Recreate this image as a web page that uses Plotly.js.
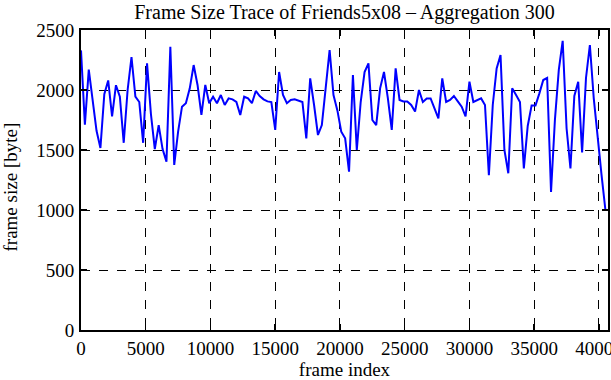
<!DOCTYPE html>
<html>
<head>
<meta charset="utf-8">
<script src="https://cdn.plot.ly/plotly-3.0.1.min.js"></script>
<style>html,body{margin:0;padding:0;background:#fff;}#chart{width:611px;height:380px;}</style>
</head>
<body>
<div id="chart"></div>
<script>
// Aggregated frame sizes (bytes), one value per 300 frames
const aggregation = 300;
const frameSizes = [
  2330, 1710, 2170, 1900, 1660, 1517, 1965, 2080, 1780, 2040,
  1945, 1560, 2000, 2275, 1945, 1900, 1560, 2222, 1800, 1508,
  1708, 1508, 1403, 2361, 1375, 1653, 1861, 1890, 2014, 2208,
  2042, 1792, 2042, 1890, 1944, 1890, 1958, 1875, 1930, 1922,
  1900, 1792, 1944, 1930, 1890, 1992, 1950, 1922, 1905, 1900,
  1667, 2150, 1958, 1890, 1917, 1922, 1910, 1900, 1597, 2097,
  1875, 1625, 1708, 2042, 2333, 1958, 1830, 1653, 1597, 1319,
  2125, 1500, 1900, 2150, 2222, 1750, 1708, 2014, 2150, 1930,
  1667, 2180, 1917, 1905, 1905, 1875, 1820, 2000, 1900, 1930,
  1930, 1847, 1764, 2097, 1900, 1917, 1950, 1905, 1861, 1780,
  2070, 1900, 1917, 1930, 1875, 1290, 1875, 2180, 2292, 1500,
  1306, 2014, 1958, 1900, 1347, 1700, 1870, 1870, 1972, 2083,
  2100, 1150, 1750, 2167, 2410, 1681, 1347, 1950, 2069, 1480,
  2100, 2375, 1930, 1597, 1292, 1000
];
const frameIndex = frameSizes.map((_, i) => i * aggregation);
const xTicks = [0, 5000, 10000, 15000, 20000, 25000, 30000, 35000, 40000];
const yTicks = [0, 500, 1000, 1500, 2000, 2500];
const chartTitle = 'Frame Size Trace of Friends5x08 \u2013 Aggregation 300';
const xTitle = 'frame index';
const yTitle = 'frame size [byte]';

const family = '"Liberation Serif", "DejaVu Serif", serif';
const font = {family: family, size: 19, color: '#000'};

const axisCommon = {
  showline: true, linecolor: '#000', linewidth: 2, mirror: 'ticks',
  ticks: 'inside', ticklen: 6, tickwidth: 1.5, tickcolor: '#000',
  showgrid: true, gridcolor: '#000', gridwidth: 1, griddash: 'dash',
  zeroline: false, tickfont: font, automargin: false, ticklabeloverflow: 'allow'
};

const trace = {
  x: frameIndex, y: frameSizes, type: 'scatter', mode: 'lines',
  line: {color: '#0000ff', width: 2}, hoverinfo: 'skip'
};

const layout = {
  width: 611, height: 380,
  margin: {l: 81, r: 3, t: 30, b: 50},
  paper_bgcolor: '#fff', plot_bgcolor: '#fff',
  showlegend: false,
  font: font,
  title: {text: chartTitle, font: {family: family, size: 20, color: '#000'},
          x: 0.5, xanchor: 'center', y: 1 - 12/380, yanchor: 'middle', xref: 'paper', yref: 'container'},
  xaxis: Object.assign({}, axisCommon, {
    range: [0, 40700], tickvals: xTicks, ticktext: xTicks.map(String),
    title: {text: xTitle, font: font, standoff: 7}
  }),
  yaxis: Object.assign({}, axisCommon, {
    range: [0, 2500], tickvals: yTicks, ticktext: yTicks.map(String),
    ticklabelstandoff: 1
  }),
  annotations: [{
    text: yTitle, font: font, textangle: -90, showarrow: false,
    xref: 'paper', yref: 'paper', x: (10 - 81) / 527, y: 0.475,
    xanchor: 'center', yanchor: 'middle'
  }]
};

Plotly.newPlot('chart', [trace], layout, {staticPlot: true, displayModeBar: false});
</script>
</body>
</html>
